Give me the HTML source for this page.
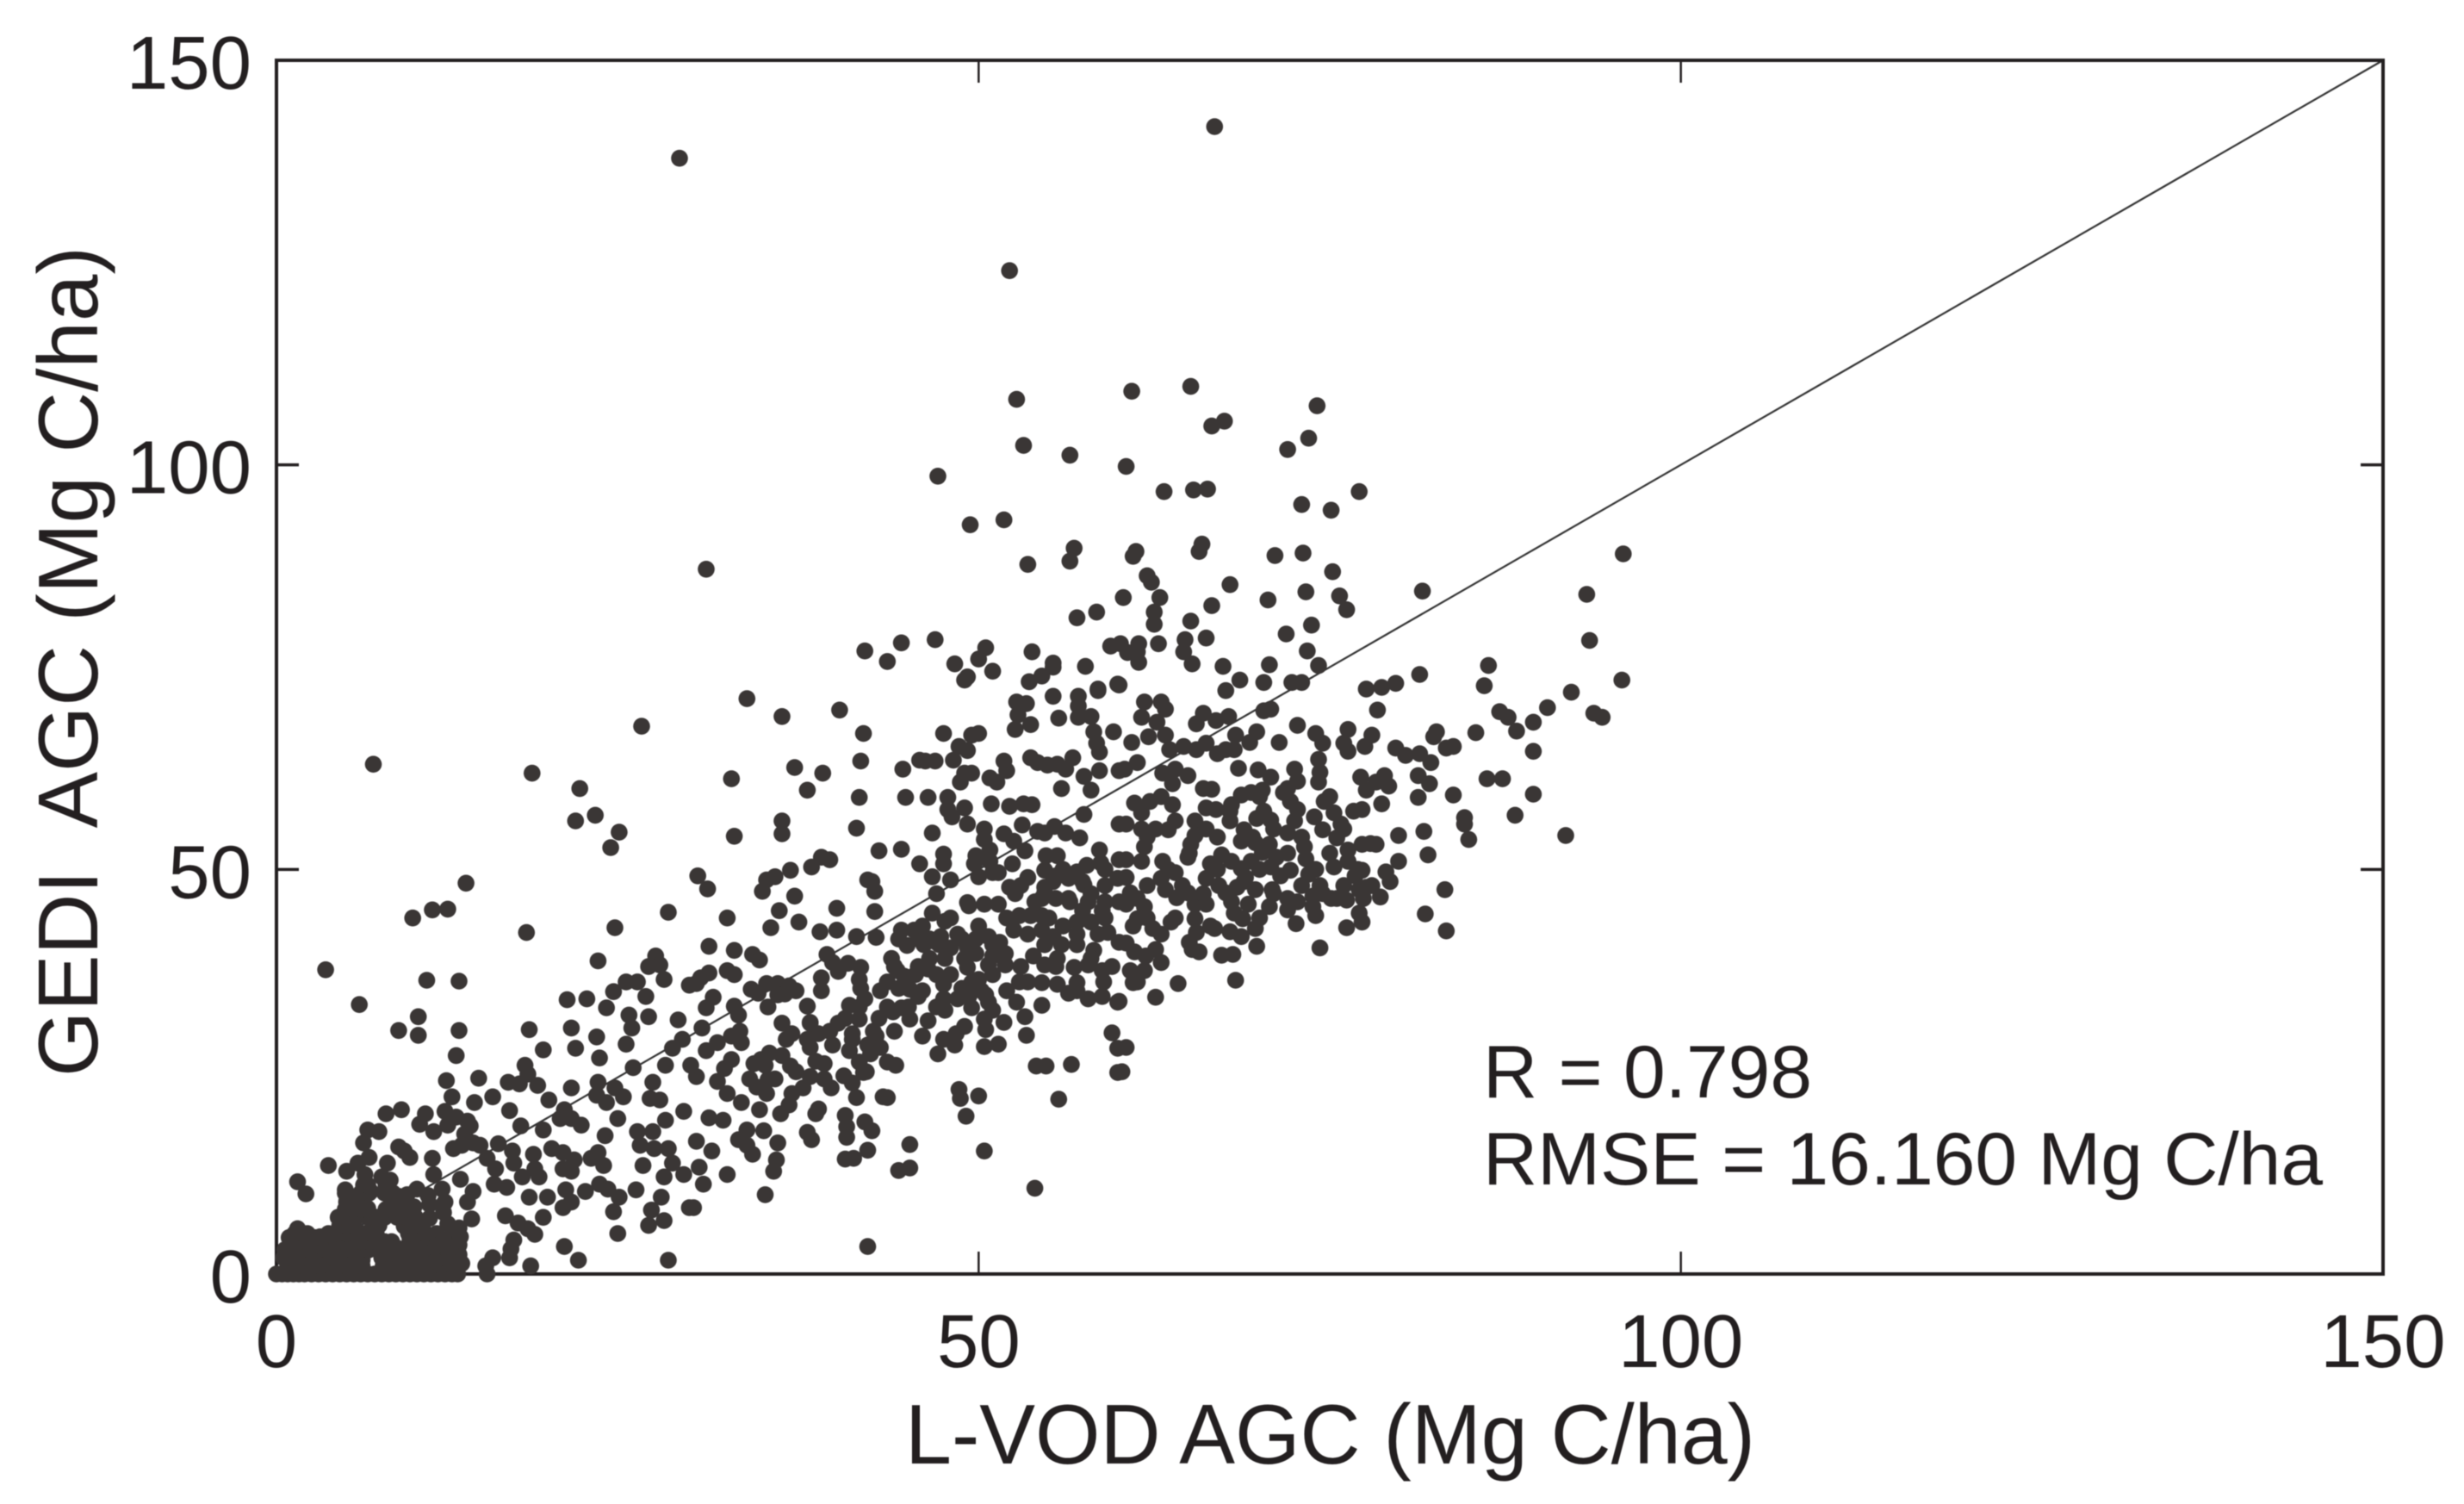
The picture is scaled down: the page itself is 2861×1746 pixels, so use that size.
<!DOCTYPE html>
<html lang="en">
<head>
<meta charset="utf-8">
<title>GEDI AGC vs L-VOD AGC scatter</title>
<style>
html,body{margin:0;padding:0;background:#fff;width:2861px;height:1746px;overflow:hidden}
svg{display:block;filter:blur(.5px)}
text{font-family:"Liberation Sans",Arial,sans-serif;fill:#231f20;white-space:pre}
</style>
</head>
<body>
<svg id="chart" xmlns="http://www.w3.org/2000/svg" width="2861" height="1746" viewBox="0 0 2861 1746">
<g id="line-layer"></g>
<g id="frame-layer"></g>
<g id="point-layer"></g>
<g id="tick-layer"></g>
<text x="1051" y="1699" font-size="98" textLength="987" lengthAdjust="spacingAndGlyphs">L-VOD AGC (Mg C/ha)</text>
<text transform="translate(113,1250) rotate(-90)" font-size="98" textLength="964" lengthAdjust="spacingAndGlyphs">GEDI  AGC (Mg C/ha)</text>
<text x="1722" y="1274" font-size="86" textLength="382" lengthAdjust="spacingAndGlyphs">R = 0.798</text>
<text x="1722" y="1375" font-size="86" textLength="975" lengthAdjust="spacingAndGlyphs">RMSE = 16.160 Mg C/ha</text>
</svg>
<script>
const xTickValues=[0,50,100,150];
const yTickValues=[0,50,100,150];
const identityLine=[0,150];

const topX=[66.8,28.7,52.2,52.7,60.9,65.1,66.6,67.5,72.0,53.2,56.5,60.5,47.1,63.2,65.3,66.3,49.4,51.8,53.5,56.8,56.5,61.2,61.0,65.9,65.7];
const topY=[141.8,137.9,124.0,108.1,109.1,109.7,104.8,105.4,101.9,102.4,101.2,99.8,98.6,96.7,96.9,97.0,92.6,93.2,87.7,89.7,88.1,89.3,88.7,90.2,89.3];

const upperRightX=[74.1,73.5,73.0,75.1,77.1,71.1,73.1,75.2,73.3,70.6,75.7,76.2,81.6,67.9,66.6,73.7,71.9,73.4,74.2,70.7,70.3,68.6,67.4,67.6,72.3,73.0,77.6,78.7,79.7,81.4];
const upperRightY=[107.3,103.3,95.1,94.4,96.7,88.8,89.1,86.8,84.3,83.3,83.8,82.1,84.4,85.2,82.6,80.2,79.1,77.0,75.2,75.3,73.1,73.4,75.1,72.1,73.1,73.1,72.3,72.5,73.0,74.1];

const upperMidX=[62.0,62.3,62.9,62.5,62.5,60.3,58.4,57.0,65.1,66.2,64.7,64.6,65.2,62.8,61.4,61.3,61.4,60.6,60.1,59.4,57.6,53.8,55.3,54.5,53.6,55.3,59.9,58.5];
const upperMidY=[86.3,85.5,83.6,81.8,80.3,83.6,81.8,81.1,80.7,78.6,78.4,76.9,75.4,77.9,77.9,76.9,75.6,76.8,77.9,77.6,75.1,76.9,75.5,73.9,73.2,75.0,72.9,72.3];

const upperLeftX=[44.5,41.9,43.5,46.9,48.3,50.5,50.0,51.0,49.0,49.2,30.6,33.5,36.0,40.1,41.8,41.6,36.9,38.9,37.8,32.4,41.5,44.8,46.4,41.3,36.0,36.0,32.6,42.9,44.5,46.7,44.6,45.8,46.9,46.2];
const upperLeftY=[78.0,77.0,75.7,78.4,75.4,77.4,76.0,74.5,73.4,73.8,87.1,71.1,68.9,69.7,66.8,63.4,62.6,61.9,59.8,61.2,58.9,58.9,58.9,55.1,56.0,54.4,54.1,52.3,52.5,54.5,62.4,63.5,63.4,63.4];

const band47to53X=[47.5,50.0,49.5,48.6,49.2,48.2,52.7,53.4,52.8,52.6,53.7,55.3,55.7,57.1,57.1,57.1,58.0,58.2,58.4,58.6,58.5,60.0,59.6,53.7,54.2,54.9,55.6,56.2,56.7,58.6,57.5,58.0,55.9,60.0];
const band47to53Y=[66.8,66.8,66.6,65.2,64.7,63.5,70.7,70.5,69.1,67.3,67.9,71.4,68.7,71.4,68.8,70.2,68.9,67.0,65.6,64.5,72.1,72.8,67.0,63.8,63.2,62.9,63.0,62.4,63.8,62.2,61.5,59.8,60.0,62.2];

const band50to58X=[51.8,52.0,51.3,50.8,49.5,49.0,48.7,50.9,52.2,53.2,53.8,47.8,47.8,48.1,49.0,49.2,50.4,50.4,51.8,52.5,53.3,53.1,54.2,54.7,55.4,56.2,57.2,57.5,60.0];
const band50to58Y=[63.4,62.2,60.8,61.3,61.9,61.9,60.8,58.1,57.8,58.1,58.0,58.9,57.4,56.5,57.6,55.6,55.0,53.7,54.4,53.5,52.3,55.5,54.7,54.5,55.3,54.5,53.9,56.8,55.6];

const band45to52X=[47.5,47.5,45.8,46.7,48.0,49.8,49.7,50.8,50.8,51.0,50.0,51.4,52.4,53.5,52.2,52.6,54.8,55.6,54.7,58.6,58.7,57.7,57.0,55.5,54.7,56.4,57.5,59.0,59.9,60.0,55.5,54.5,47.0,49.2,50.4,51.4,57.8,59.0];
const band45to52Y=[51.9,50.7,50.7,49.1,48.7,51.7,50.7,52.4,51.0,49.6,49.1,49.6,50.7,49.0,47.8,47.0,51.7,51.7,49.9,52.4,50.8,50.5,49.7,49.2,47.8,48.9,48.1,48.0,48.9,51.2,46.4,46.4,47.0,45.9,45.7,45.7,46.0,46.0];

const band30to43X=[30.0,30.7,34.6,34.9,35.5,36.6,38.1,38.8,39.4,42.1,42.4,42.6,36.9];
const band30to43Y=[49.2,47.6,47.3,48.7,49.1,49.9,50.3,51.5,51.2,48.7,48.5,47.3,46.7];

const farRightX=[95.9,93.3,93.5,86.3,86.0,78.4,95.8,92.2,90.5,89.5,88.3,87.7,87.1,93.8,94.4,85.4,82.6,82.4,83.8,83.3,89.5,79.7,80.4,81.4,82.2,81.3,82.1,86.2,87.3,89.5,83.8,81.3,88.2,84.6,84.6,84.9,91.8,79.9,81.7,82.0,79.9,79.0,79.3,78.6,83.2,81.8,83.3];
const farRightY=[89.0,84.0,78.3,75.2,72.7,69.7,73.4,71.9,70.0,68.2,67.1,68.8,69.5,69.3,68.8,66.9,67.0,66.4,65.2,65.0,64.6,65.0,64.1,64.3,63.2,61.6,60.6,61.2,61.2,59.3,59.2,58.9,56.7,56.4,55.6,53.7,54.2,54.2,54.7,51.8,51.0,49.7,48.5,46.6,47.5,44.5,42.4];

const band72to79X=[77.9,78.3,77.3,78.7,77.3,76.7,79.2,77.6,77.2,78.3,78.9,76.3,76.0,76.3,78.0,77.5,74.0,74.5,74.2,74.3,74.2,72.5,72.7,71.4,69.8,69.3,68.3,68.2,67.0,68.5,67.6];
const band72to79Y=[53.2,53.1,53.1,58.1,57.4,57.2,60.3,59.8,61.4,60.8,61.6,67.3,65.6,64.6,66.6,65.2,66.8,65.6,63.6,62.0,60.8,62.4,67.8,65.7,67.0,65.7,66.6,64.8,64.3,62.5,64.8];

const band60to67X=[66.2,65.5,64.6,63.6,63.3,62.1,60.9,63.0,61.8,63.3,61.6,62.7,66.0,65.5,66.9,67.8,70.3,70.8,61.3,60.4,64.0,63.1,64.9,63.8,69.9,70.8,70.2,68.7,69.4,66.6];
const band60to67Y=[65.6,64.8,65.2,64.8,66.6,66.4,65.7,70.7,70.7,69.8,68.8,68.2,69.3,68.0,68.4,68.9,69.6,69.8,63.2,62.4,62.4,61.9,61.6,60.6,62.3,61.4,59.8,59.2,59.5,59.9];

const core60to68X=[61.1,62.2,61.6,63.8,60.5,61.6,62.6,63.5,61.8,61.6,60.5,66.2,66.9,67.9,67.9,65.4,66.2,65.4,65.1,64.9,67.3,66.5,66.2];
const core60to68Y=[58.2,58.4,57.0,58.0,55.6,55.0,55.0,54.9,52.8,51.0,51.2,57.6,57.4,57.2,56.0,56.0,55.0,54.2,53.1,51.5,51.8,50.7,48.9];

const core68to78X=[70.3,69.8,70.8,68.9,68.7,69.7,70.7,70.2,71.2,68.7,69.4,70.8,72.7,71.7,72.2,72.7,72.5,72.0,74.6,75.3,73.9,75.8,74.5,75.5,76.3,73.2,73.3,75.3,76.3,76.8,77.3,77.1,77.6,77.4];
const core68to78Y=[57.2,56.3,56.1,54.9,53.5,53.3,53.1,52.1,51.5,50.1,51.0,50.3,60.9,59.5,58.4,57.4,56.0,54.5,58.4,57.0,56.5,55.6,54.9,53.9,52.4,52.8,51.3,50.3,51.0,49.2,49.9,47.5,47.8,46.4];

const lower68to78X=[71.5,72.2,73.5,74.3,73.8,72.7,72.0,75.1,76.2,75.5,70.9,70.7,69.7,73.8,74.0,72.6,77.1,77.3,76.2,74.3,67.6,68.4,67.1,68.9,69.2,68.2,68.8,67.9,68.7,69.7,69.8,66.8,68.1,67.3,68.3];
const lower68to78Y=[49.2,49.9,49.4,48.0,46.7,46.0,46.4,46.4,46.2,46.4,47.5,45.4,47.5,45.4,44.3,43.3,44.6,43.5,42.8,40.3,47.1,47.8,48.0,48.5,45.7,44.6,43.9,42.3,41.7,42.7,40.5,42.7,39.5,39.4,36.3];

const lower60to66X=[65.4,66.2,65.4,65.5,65.2,65.7,64.9,64.1,63.7,62.4,63.3,63.0,64.0,63.1,61.3,60.8,61.8,61.3,60.5,60.5,61.1,62.6,63.0,60.8,61.8,61.3,61.9,64.2,62.6,60.0];
const lower60to66Y=[45.7,45.7,43.9,42.2,40.1,39.8,47.1,46.5,43.5,42.7,47.5,48.9,49.6,51.0,46.4,47.1,45.4,43.9,45.7,40.9,39.8,40.1,38.5,37.5,37.5,36.1,39.3,35.9,34.2,33.7];

const sparse30to45X=[54.0,42.1,50.4,45.1,45.1,44.3,42.1,41.1,40.5,40.6,40.6,40.5,42.4,41.9,38.1,37.8,38.6,38.4,35.7,35.6,35.4,34.7,33.5,32.9,33.9,33.5,32.1,34.8,31.0,30.4,29.7,29.9,30.1,31.8,30.8];
const sparse30to45Y=[10.6,3.4,15.2,16.0,13.1,12.8,15.3,14.3,14.2,16.9,18.2,19.6,17.7,18.8,16.6,17.5,20.4,19.8,16.2,14.1,12.7,17.7,17.8,16.6,14.8,15.9,12.3,9.8,15.2,11.1,8.2,16.4,13.2,19.0,19.3];

const sparse40to60X=[43.5,43.2,41.3,49.1,50.0,48.7,48.6,55.7,54.1,54.8,56.6,59.9,59.5,59.9,60.5,60.2,44.1,43.5,50.4,51.4,53.4,47.1,48.3,47.5,49.0,48.4,46.0,50.5,51.8,50.4,51.0,50.7,49.5,49.3,48.8];
const sparse40to60Y=[21.8,21.9,21.8,19.5,22.0,21.7,22.8,21.6,25.7,25.7,25.9,24.9,29.8,27.9,28.0,25.0,25.8,26.2,28.1,28.4,29.5,27.2,28.3,29.0,30.6,29.7,29.4,30.2,31.1,31.5,32.6,33.6,32.9,34.3,35.3];

const band44to51X=[50.0,50.7,49.2,51.0,49.8,49.2,48.8,49.8,50.7,51.0,50.2,47.6,44.3,45.4,45.7,46.5,47.3,44.9,46.1,47.2,48.0,43.8,43.5,44.2,44.7,44.3,45.7,46.4,47.0,47.5,47.5,47.6];
const band44to51Y=[36.4,38.2,37.9,39.3,39.6,40.3,41.4,41.4,41.7,40.7,35.0,39.0,41.4,42.5,41.4,41.4,41.7,40.6,40.7,40.7,40.3,39.0,36.1,37.5,36.8,35.3,38.0,37.7,37.0,35.8,34.0,32.6];

const band40to47X=[45.7,45.1,44.5,43.9,42.9,45.1,46.4,42.7,42.1,41.0,40.8,42.3,41.5,41.8,41.0,40.4,40.8,41.5,40.5,39.6,39.4,38.6,37.8,36.7,36.3,37.8,38.0];
const band40to47Y=[34.3,35.2,32.9,32.4,31.6,31.5,31.3,29.4,28.3,29.7,27.6,27.2,26.2,24.9,23.6,24.5,33.2,31.5,31.6,28.3,30.0,29.7,29.0,29.7,29.0,33.1,31.1];

const band30to39X=[36.6,38.4,35.1,34.5,34.8,38.0,39.0,37.5,36.7,36.5,35.9,35.5,34.9,34.4,33.7,34.2,33.1,32.1,31.4,31.9,32.4,30.6,31.4,32.4,33.1,29.9,29.5];
const band30to39Y=[25.7,26.3,27.3,26.5,25.8,24.4,24.1,23.0,22.3,20.9,19.8,24.1,22.3,20.3,24.1,23.1,21.2,22.3,23.8,25.4,26.5,27.6,28.6,29.4,28.6,24.4,25.8];

const band30to37X=[30.3,30.6,31.1,30.8,29.9,30.2,32.6,32.9,32.1,32.6,32.6,33.9,34.4,30.8,33.8,34.3,34.9,35.7,35.7,36.5,36.2,32.1,35.2,37.2,35.8,39.9,42.6,38.7,39.9,41.3,42.7];
const band30to37Y=[30.4,32.9,34.2,37.2,35.9,36.6,33.1,32.0,37.5,37.0,40.0,39.5,38.8,40.5,35.2,34.7,35.9,35.9,34.5,35.6,34.6,44.0,42.8,43.5,44.9,45.2,44.8,42.3,42.5,41.7,41.6];

const band38to47X=[39.2,40.0,39.6,40.7,41.6,41.5,41.6,41.9,38.8,38.8,46.7,47.6,49.3];
const band38to47Y=[39.5,37.4,38.5,38.4,37.9,36.4,35.3,34.0,36.6,35.0,44.6,43.6,45.5];

const band52to60X=[52.9,52.5,51.9,51.9,52.9,53.5,52.7,53.3,54.5,55.6,56.4,57.8,58.8,59.9,57.0,58.8,58.9,53.9,54.7,55.6,56.8,57.8,58.2,57.0,55.9,54.7,54.5,55.3,53.7,54.5,54.7,55.3,57.4,56.4,57.4,58.8,58.0,57.0,59.2];
const band52to60Y=[44.3,42.5,39.6,38.2,36.1,36.1,33.6,31.8,33.2,35.8,34.7,34.0,34.3,33.6,35.0,37.5,36.1,39.3,38.2,39.0,37.9,38.2,40.0,40.7,40.7,40.7,42.5,41.7,44.3,44.3,47.1,48.5,48.5,46.4,44.9,44.9,43.5,43.5,42.2];

const ridgeLowX=[35,36,37,38,39,39.5,40,41,41.5,42,42.5,43,43.5,44,38,36,35,33,34,37];
const ridgeLowY=[24,27,25,28,26,23,31,29,33,25,30,28,33,30,31,31,33,30,26,35];

const ridgeMidX=[43,44,45,45.5,46,46.5,47,47,48,48.5,48.5,49,49.5,50,50.5,51,51.5,52,52,44.5,46,48];
const ridgeMidY=[35,38,33,37,35,39,33,41,37,34,42,39,36,43,34.5,37,41,35,44,42.5,43,44];

const ridgeUpperX=[53,53.5,54,54.5,55,55.5,56,56.5,57,57,58,58,58.5,59,59.5,60,60,60.5,61,56,53,59,61];
const ridgeUpperY=[38,42,46,36,44,38,43,46,36,42,39,47,42,44,38,46,41,49,43,50,48,50,36];

const ridgeHighX=[62,62,63,63.5,64,64.5,65,65,66,66.5,67,67,68,68,69,69.5,70,70,71,71,72,72,73,73,74,74.5,75,75,76,76,77,78,72,70,68,66,64,62,63];
const ridgeHighY=[48,44,42,50,44,48,52,41,47,43,50,54,46,51,49,54,44,50,47,55,52,45,48,54,50,47,52,59,48,55,50,48,60,59,58,60,56,54,59];

const outliersLeftX=[6.9,18.2,21.6,22.7,21.3,24.4,23.8,26.0,13.5,3.5,5.9,9.7,11.1,12.2,17.8,24.1,27.9,10.7,13.0,22.9,29.4];
const outliersLeftY=[63.0,61.9,60.0,56.7,56.0,54.6,52.7,67.7,48.3,37.6,33.3,44.0,45.0,45.1,42.2,42.8,44.7,36.3,36.2,38.7,35.7];

const band20to29X=[27.0,26.5,27.3,27.6,24.9,25.7,24.0,26.3,20.7,22.1,23.5,25.1,26.5,28.6,25.3,24.9,21.0,22.8,21.3,23.0,18.0,19.0,8.7,10.1,10.1,13.0,12.8,25.4,28.2,28.9,27.7];
const band20to29Y=[39.3,38.0,38.2,36.4,36.1,36.1,34.9,34.3,33.9,34.0,32.9,32.0,31.8,31.4,30.4,28.4,30.4,29.3,27.9,26.7,30.2,27.7,30.1,31.8,29.5,30.1,27.0,25.5,27.9,29.0,25.8];

const band16to28X=[26.8,26.6,27.3,17.7,17.9,16.5,17.3,18.6,19.4,21.0,22.9,22.8,23.5,24.1,24.7,14.4,15.4,14.1,16.6,12.1,12.5,12.0,12.8,13.6,10.6,10.2,11.2,12.2,7.8,8.9];
const band16to28Y=[23.7,21.7,21.5,25.8,24.7,23.7,23.5,23.3,21.5,23.0,23.7,22.1,21.2,23.0,21.9,24.2,21.9,21.2,20.2,23.9,21.9,20.1,19.4,18.9,19.8,18.5,17.6,18.4,19.8,20.3];

const band12to22X=[20.5,20.2,21.0,21.7,17.4,19.0,24.3,23.4,13.4,13.8,14.5,12.6,13.2,14.0,15.8,25.7,25.9,26.1,26.8,27.7,29.0,26.9,27.9,28.2,29.0,27.6];
const band12to22Y=[20.3,19.2,19.2,18.4,18.3,17.8,19.2,17.1,17.3,18.3,15.9,15.5,15.9,16.2,16.1,17.6,15.9,13.4,17.6,19.0,20.1,15.5,15.5,13.7,12.3,12.0];

const band14to24X=[16.8,16.9,18.3,18.4,17.5,18.7,18.0,19.3,19.6,20.4,21.2,20.4,21.0,22.4,22.9,23.3,15.0,15.6,15.5,16.4,13.1,14.0,13.6,13.9,11.9,20.6,21.0,20.4,22.0,23.0,23.6,24.4];
const band14to24Y=[15.2,13.7,14.8,13.0,12.0,12.0,9.5,9.5,15.5,15.0,14.1,13.0,12.7,14.3,15.0,13.4,14.3,13.0,11.1,10.7,11.7,10.2,8.9,6.8,8.6,10.4,8.9,8.2,10.2,11.1,10.5,9.5];

const lowBandX=[25.6,27.4,26.7,27.6,26.5,24.0,24.3,20.5,21.5,27.9,19.0,16.3,17.2,17.9,18.4,16.9,16.7,16.6,15.4,14.9,15.0,18.1,29.4];
const lowBandY=[10.4,9.5,7.9,6.6,6.0,7.7,5.0,3.4,1.7,1.7,7.0,7.2,6.3,5.6,4.9,4.2,3.1,2.0,2.0,1.0,0,1.0,8.2];

const cornerUpperX=[11.1,11.2,11.8,10.0,10.8,9.3,8.7,3.7,1.5,2.1,5.0,4.9,6.5,7.3,6.2,6.6,8.7,9.5,9.1,7.9,7.5,6.3,5.8,8.1];
const cornerUpperY=[14.3,12.3,10.5,10.5,9.7,9.8,9.6,13.4,11.4,9.9,12.7,10.4,17.8,17.6,16.2,14.4,15.7,14.4,15.2,13.7,12.0,12.3,13.7,11.6];

const cornerMidX=[5.9,6.7,7.7,8.3,5.5,4.8,4.4,5.0,6.5,8.1,7.3,6.9,5.7,4.8,9.3,10.0,9.1,10.4,10.6,9.5,11.4,12.6,13.0,7.1,8.1,9.5,11.0,11.8,13.0,13.2,11.8,10.6,9.3,8.3,7.5,7.9,6.3,6.1,6.0];
const cornerMidY=[9.1,10.2,10.2,9.5,8.1,7.0,7.0,8.8,8.1,7.7,7.0,5.9,5.2,5.6,7.7,6.6,5.9,5.9,4.9,4.5,4.7,5.2,3.6,4.2,3.5,2.7,2.0,2.7,2.4,1.3,1.0,1.0,1.0,1.3,2.0,2.7,2.7,1.7,3.8];

const cornerRow0X=[0,0.4,0.8,1.2,1.6,2,2.5,3,3.5,4,4.5,5,5.5,6,6.5,7,7.5,8,8.5,9,9.5,10,10.5,11,11.5,12,12.5,12.9];
const cornerRow0Y=[0,0,0,0,0,0,0,0,0,0,0,0,0,0,0,0,0,0,0,0,0,0,0,0,0,0,0,0];

const cornerRow1X=[0.8,1.4,2,2.6,3.2,3.8,4.4,5,5.6,6.1,7.6,8.3,9.3,9.9,10.5,11.7,12.9];
const cornerRow1Y=[1,1,1,1,1,1,1,1,1,1,1,1,1,1,1,1,1];

const cornerRow2X=[0.5,1.1,1.7,2.3,2.9,3.5,4.1,4.7,5.3,5.9,7.7,9.6,10.3,11.0,11.7,12.8];
const cornerRow2Y=[2,2,2,2,2,2,2,2,2,2,2,2,2,2,2,2];

const cornerRow3X=[0.6,1.2,1.8,2.4,3,3.6,4.2,4.8,5.4,6,6.6,7.3,7.9,9.3,10,10.6,11.9,12.9];
const cornerRow3Y=[3,3,3,3,3,3,3,3,3,3,3,3,3,3,3,3,3,3];

const cornerRow4X=[1,1.6,2.2,3.7,4.3,4.9,5.5,6.1,6.7,7.1,7.7,9.5,10.1,10.7,11.3,12.7];
const cornerRow4Y=[4,4,4,4,4,4,4,4,4,4,4,4,4,4,4,4];

const cornerRow5X=[1.3,2.2,3.7,4.4,5,5.6,6.2,6.8,7.1,9.4,10,10.6,11.4,12.6];
const cornerRow5Y=[5,5,5,5,5,5,5,5,5,5,5,5,5,5];

const cornerHighX=[4.5,5,5.5,6.9,7.3,9.1,9.7,10.3,4.4,4.9,5.4,6.5,7.2,7.7,8.6,9.3,9.9,4.9,5.5,6.1,6.5,7.8,8.2,9.2,5.0,5.6,6.0,8.2,4.9,6.0,6.6,7.7,8.3,6.2,6.5,7.8];
const cornerHighY=[6,6,6,6,6,6,6,6,7,7,7,7,7,7,7,7,7,8,8,8,8,8,8,8,9,9,9,9,10,10,10,10,10,11,11,11];

const cornerFillX=[2.8,3.1,2.7,3.1,8.3,8.2,11.4,12.4,11.9,12.3,10.8,9,11.3,12.4,8,8.6,0.9,1.5,13.1,13,12.2,10.9,11.9,9.8,10.9,12];
const cornerFillY=[3.5,3.5,4.5,4.6,3.5,4,3.5,3.5,4.2,2.5,2.5,1.5,1.6,1.5,2.5,3.2,4.5,5.6,4.6,5.7,6.2,6.9,7.6,8.3,8.6,8.9];

const seriesX=[topX,upperRightX,upperMidX,upperLeftX,band47to53X,band50to58X,band45to52X,band30to43X,farRightX,band72to79X,band60to67X,core60to68X,core68to78X,lower68to78X,lower60to66X,sparse30to45X,sparse40to60X,band44to51X,band40to47X,band30to39X,band30to37X,band38to47X,band52to60X,ridgeLowX,ridgeMidX,ridgeUpperX,ridgeHighX,outliersLeftX,band20to29X,band16to28X,band12to22X,band14to24X,lowBandX,cornerUpperX,cornerMidX,cornerRow0X,cornerRow1X,cornerRow2X,cornerRow3X,cornerRow4X,cornerRow5X,cornerHighX,cornerFillX];
const seriesY=[topY,upperRightY,upperMidY,upperLeftY,band47to53Y,band50to58Y,band45to52Y,band30to43Y,farRightY,band72to79Y,band60to67Y,core60to68Y,core68to78Y,lower68to78Y,lower60to66Y,sparse30to45Y,sparse40to60Y,band44to51Y,band40to47Y,band30to39Y,band30to37Y,band38to47Y,band52to60Y,ridgeLowY,ridgeMidY,ridgeUpperY,ridgeHighY,outliersLeftY,band20to29Y,band16to28Y,band12to22Y,band14to24Y,lowBandY,cornerUpperY,cornerMidY,cornerRow0Y,cornerRow1Y,cornerRow2Y,cornerRow3Y,cornerRow4Y,cornerRow5Y,cornerHighY,cornerFillY];

const NS='http://www.w3.org/2000/svg';
const plotLeft=321,plotRight=2767,plotTop=70,plotBottom=1479;
const domainMax=150;
function xScale(v){return plotLeft+(v/domainMax)*(plotRight-plotLeft);}
function yScale(v){return plotBottom-(v/domainMax)*(plotBottom-plotTop);}

const lineLayer=document.getElementById('line-layer');
const frameLayer=document.getElementById('frame-layer');
const pointLayer=document.getElementById('point-layer');
const tickLayer=document.getElementById('tick-layer');

function makeLine(parent,x1,y1,x2,y2,width,color){
  const l=document.createElementNS(NS,'line');
  l.setAttribute('x1',x1);l.setAttribute('y1',y1);l.setAttribute('x2',x2);l.setAttribute('y2',y2);
  l.setAttribute('stroke',color);l.setAttribute('stroke-width',width);
  parent.appendChild(l);
  return l;
}

const refLine=makeLine(lineLayer,xScale(identityLine[0]),yScale(identityLine[0]),xScale(identityLine[1]),yScale(identityLine[1]),2.2,'#333');



const frame=document.createElementNS(NS,'rect');
frame.setAttribute('x',plotLeft);
frame.setAttribute('y',plotTop);
frame.setAttribute('width',plotRight-plotLeft);
frame.setAttribute('height',plotBottom-plotTop);
frame.setAttribute('fill','none');
frame.setAttribute('stroke','#231f20');
frame.setAttribute('stroke-width','4');


frameLayer.appendChild(frame);

const tickLen=26;
xTickValues.forEach(function(v){
  const px=xScale(v);
  const t1=makeLine(frameLayer,px,plotBottom,px,plotBottom-tickLen,2.5,'#231f20');
  
  
  const t2=makeLine(frameLayer,px,plotTop,px,plotTop+tickLen,2.5,'#231f20');
  
  
  const label=document.createElementNS(NS,'text');
  label.setAttribute('x',px);
  label.setAttribute('y',1587);
  label.setAttribute('font-size','87');
  label.setAttribute('text-anchor','middle');
  label.textContent=String(v);
  
  
  tickLayer.appendChild(label);
});
yTickValues.forEach(function(v){
  const py=yScale(v);
  const t1=makeLine(frameLayer,plotLeft,py,plotLeft+tickLen,py,3.5,'#231f20');
  
  
  const t2=makeLine(frameLayer,plotRight,py,plotRight-tickLen,py,3.5,'#231f20');
  
  
  const label=document.createElementNS(NS,'text');
  label.setAttribute('x',292);
  label.setAttribute('y',py+33);
  label.setAttribute('font-size','87');
  label.setAttribute('text-anchor','end');
  label.textContent=String(v);
  
  
  tickLayer.appendChild(label);
});

seriesX.forEach(function(xs,g){
  const ys=seriesY[g];
  const n=Math.min(xs.length,ys.length);
  for(let i=0;i<n;i++){
    const c=document.createElementNS(NS,'circle');
    c.setAttribute('cx',xScale(xs[i]).toFixed(1));
    c.setAttribute('cy',yScale(ys[i]).toFixed(1));
    c.setAttribute('r','9.8');
    c.setAttribute('fill','#3a3635');
    
    
    pointLayer.appendChild(c);
  }
});
</script>
</body>
</html>
